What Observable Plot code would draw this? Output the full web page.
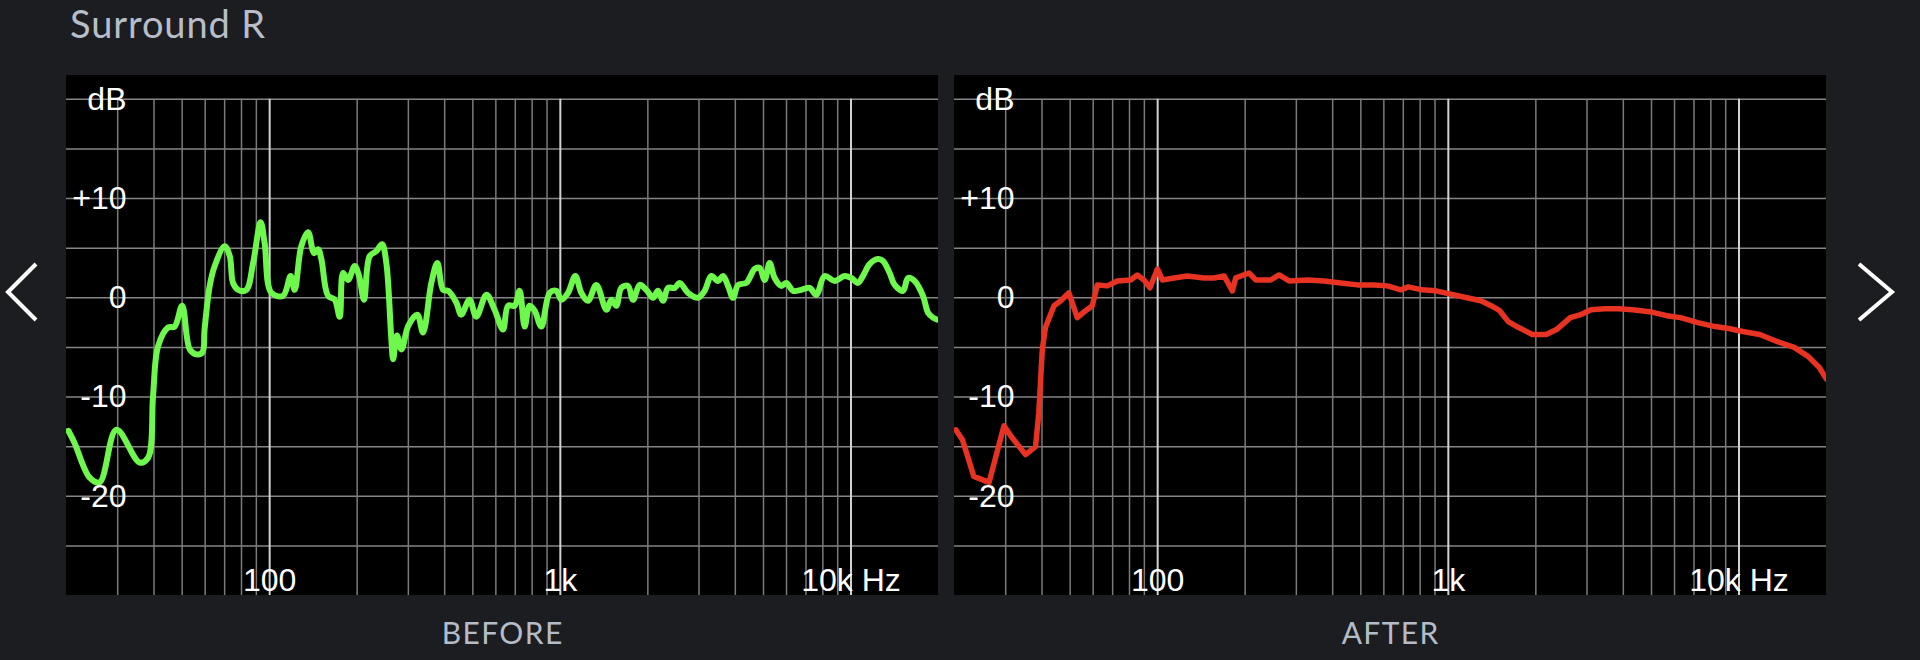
<!DOCTYPE html>
<html>
<head>
<meta charset="utf-8">
<script src="https://cdn.jsdelivr.net/npm/d3@7"></script>
<script src="https://cdn.jsdelivr.net/npm/@observablehq/plot@0.6"></script>
<style>
  html, body { margin: 0; padding: 0; }
  body { width: 1920px; height: 660px; background: #1c1d21; position: relative; overflow: hidden; }
  .panel { position: absolute; top: 75px; width: 872px; height: 520px; }
  #deco { position: absolute; left: 0; top: 0; }
</style>
</head>
<body>
<svg id="deco" width="1920" height="660"></svg>
<div class="panel" id="before" style="left:66px"></div>
<div class="panel" id="after" style="left:954px"></div>
<script>
// ---- data ----
const titleText = "Surround R";
const panelLabels = ["BEFORE", "AFTER"];

const beforeFreq = [20.3, 21.3, 24.0, 26.0, 29.7, 35.7, 38.2, 39.7, 41.3, 44.7, 47.1, 50.0, 53.1, 56.0, 58.7, 59.7, 62.2, 64.7, 70.0,
  72.9, 74.8, 77.9, 83.1, 87.7, 93.1, 96.1, 101.3, 111.2, 118.1, 121.9, 128.5, 135.6, 142.1, 146.7, 150.6, 158.8,
  167.4, 174.1, 178.9, 186.1, 196.1, 203, 211.2, 220.8, 232.8, 243.6, 252, 262, 266, 274, 284, 300, 322, 337,
  360, 377.5, 395, 411, 439, 456, 487, 514, 557, 594, 635, 661, 696, 724, 754, 784, 816, 860, 919, 969, 1008,
  1063, 1126, 1181, 1245, 1330, 1440, 1498, 1558, 1621, 1709, 1779, 1875, 1977, 2084, 2168, 2256, 2347, 2474,
  2573, 2750, 2976, 3136, 3307, 3487, 3628, 3775, 3929, 4088, 4364, 4661, 4849, 5045, 5248, 5461, 5758, 5991,
  6318, 6745, 7204, 7597, 8113, 8784, 9506, 10020, 10570, 11000, 11590, 12390, 12890, 13580, 14130, 15100,
  15710, 16550, 17690, 18410, 19150, 19820];
const beforeDb = [-13.4, -14.6, -18.1, -18.6, -13.3, -16.6, -16.1, -9.9, -4.9, -3.0, -2.9, -0.8, -5.2, -5.7, -5.5, -3.2, 1.2, 3.2, 5.2,
  4.2, 1.5, 0.8, 0.8, 3.5, 7.6, 5.5, 0.5, 0.2, 2.2, 0.8, 5.2, 6.6, 4.5, 4.9, 3.9, 0.2,
  -0.2, -1.9, 2.5, 1.8, 3.2, 2.2, -0.2, 4.2, 4.7, 5.4, 3.5, -4.0, -6.2, -3.8, -5.2, -2.8, -1.7, -3.5,
  1.5, 3.5, 0.8, 0.7, -0.5, -1.7, -0.2, -1.9, 0.3, -1.2, -3.2, -0.8, -0.8, 0.7, -2.9, -0.8, -1.3, -2.9, 0.5, 0.7, -0.2,
  0.5, 2.2, 0.5, -0.3, 1.3, -1.2, -0.2, -0.8, 1.0, 1.2, -0.2, 1.3, 0.8, 0.0, 0.7, -0.3, 1.0, 1.0,
  1.5, 0.5, 0.0, 0.7, 2.2, 1.7, 2.2, 1.2, 0.0, 1.3, 1.5, 2.9, 3.0, 1.8, 3.5, 2.0, 1.2, 1.5,
  0.7, 0.8, 1.0, 0.3, 2.2, 1.7, 2.2, 2.0, 1.5, 2.2, 3.4, 3.9, 3.7, 2.5, 1.3, 0.7,
  2.0, 1.7, 0.2, -1.5, -2.0, -2.2];

const afterFreq = [20.2, 21.3, 23.3, 26.3, 29.6, 31.2, 35.1, 38.0, 39.0, 40.1, 41.1, 44.0, 46.4, 49.5, 52.9, 56.5, 59.6,
  62.0, 67.1, 72.6, 80.7, 85.1, 89.7, 94.1, 99.8, 103.8, 113.8, 126.5, 144.3, 156.3, 169.2, 180.7, 185.6,
  206.2, 217.5, 244.9, 261.6, 283.1, 327.6, 373.7, 426.6, 486.8, 555.4, 617.6, 686.4, 728, 812.5, 906.5,
  1011, 1159, 1293, 1403, 1502, 1608, 1745, 1946, 2171, 2356, 2628, 2852, 3094, 3451, 3850, 4295, 4924,
  5643, 6295, 7215, 8270, 9225, 10290, 11790, 13510, 15490, 17280, 18860, 20000];
const afterDb = [-13.3, -14.3, -18.0, -18.6, -12.9, -13.9, -15.8, -15.0, -11.6, -5.2, -3.0, -0.8, -0.3, 0.5, -2.0, -1.3, -0.8,
  1.3, 1.2, 1.7, 1.8, 2.3, 1.8, 1.0, 2.9, 1.8, 2.0, 2.2, 2.0, 2.0, 2.2, 0.7, 2.0,
  2.5, 1.8, 1.8, 2.3, 1.7, 1.8, 1.7, 1.5, 1.3, 1.3, 1.2, 0.8, 1.1, 0.8, 0.7,
  0.4, 0.0, -0.3, -0.8, -1.3, -2.4, -3.0, -3.7, -3.7, -3.2, -2.0, -1.7, -1.2, -1.1, -1.1, -1.2, -1.4,
  -1.8, -2.0, -2.5, -2.9, -3.1, -3.4, -3.7, -4.4, -5.0, -5.9, -7.0, -8.2];

const xDomain = [20, 20000];
const yDomain = [-30, 22.4];
const yTickValues = [20, 10, 0, -10, -20];
const yTickLabels = ["dB", "+10", "0", "-10", "-20"];
const xTickValues = [100, 1000, 10000];
const xTickLabels = ["100", "1k", "10k Hz"];
const gridDb = [20, 15, 10, 5, 0, -5, -10, -15, -20, -25];
const minorFreqs = [30, 40, 50, 60, 70, 80, 90, 200, 300, 400, 500, 600, 700, 800, 900,
  2000, 3000, 4000, 5000, 6000, 7000, 8000, 9000];
const majorFreqs = [100, 1000, 10000];
const seriesColors = ["#6df84b", "#e83222"];

// ---- charts ----
function makePanel(freqs, dbs, color, strokeWidth, curve) {
  const rows = freqs.map((f, i) => ({f, db: dbs[i]}));
  const yTicks = yTickValues.map((v, i) => ({v, label: yTickLabels[i]}));
  const xTicks = xTickValues.map((v, i) => ({v, label: xTickLabels[i]}));
  const gridTop = yTickValues[0];
  return Plot.plot({
    width: 872,
    height: 520,
    margin: 0,
    x: {type: "log", domain: xDomain, axis: null},
    y: {type: "linear", domain: yDomain, axis: null},
    style: {background: "#000", overflow: "visible"},
    marks: [
      Plot.ruleY(gridDb, {stroke: "#858585", strokeWidth: 1.5}),
      Plot.ruleX(minorFreqs, {y1: gridTop, y2: yDomain[0], stroke: "#7a7a7a", strokeWidth: 1.5}),
      Plot.ruleX(majorFreqs, {y1: gridTop, y2: yDomain[0], stroke: "#d2d2d2", strokeWidth: 2}),
      Plot.line(rows, {x: "f", y: "db", stroke: color, strokeWidth, curve, clip: true,
        strokeLinejoin: "round", strokeLinecap: "round"}),
      Plot.text(yTicks, {y: "v", text: "label", frameAnchor: "left", textAnchor: "end", dx: 60,
        fill: "#fff", fontSize: 32, fontFamily: "Liberation Sans, Arial, sans-serif"}),
      Plot.text(xTicks, {x: "v", text: "label", frameAnchor: "bottom", lineAnchor: "bottom", dy: -5,
        fill: "#fff", fontSize: 32, fontFamily: "Liberation Sans, Arial, sans-serif"})
    ]
  });
}

document.getElementById("before").append(makePanel(beforeFreq, beforeDb, seriesColors[0], 6, "catmull-rom"));
document.getElementById("after").append(makePanel(afterFreq, afterDb, seriesColors[1], 5.5, "linear"));

// ---- decorations: title, panel labels, navigation chevrons ----
const deco = d3.select("#deco");
deco.append("text").attr("x", 70).attr("y", 38).text(titleText)
  .attr("fill", "#b7bec9").attr("font-family", "Lato, 'Open Sans', sans-serif").attr("font-size", 38)
  .attr("letter-spacing", 0.9);
[502, 1390].forEach((cx, i) => {
  deco.append("text").attr("x", cx + 0.7).attr("y", 644).attr("text-anchor", "middle").text(panelLabels[i])
    .attr("fill", "#b4bcc8").attr("font-family", "Lato, 'Open Sans', sans-serif").attr("font-size", 30)
    .attr("letter-spacing", 1.4);
});
deco.append("polyline").attr("points", "36,264 8,292 36,320")
  .attr("fill", "none").attr("stroke", "#fff").attr("stroke-width", 4);
deco.append("polyline").attr("points", "1859,264 1892,292 1859,320")
  .attr("fill", "none").attr("stroke", "#fff").attr("stroke-width", 4);
</script>
</body>
</html>
